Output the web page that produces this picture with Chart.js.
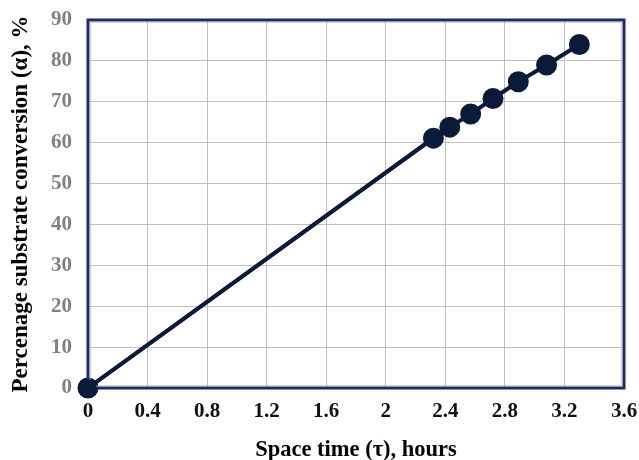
<!DOCTYPE html>
<html><head><meta charset="utf-8">
<script src="https://cdn.jsdelivr.net/npm/chart.js@4"></script>
<style>html,body{margin:0;padding:0;background:#fff}#wrap{width:639px;height:460px}</style>
</head><body><div id="wrap"><canvas id="c"></canvas></div>
<script>
const spaceTime = [0, 2.32, 2.43, 2.57, 2.72, 2.89, 3.08, 3.30];
const conversion = [0, 61.1, 63.8, 67.0, 70.8, 74.9, 79.0, 84.0];
const xTicks = [0, 0.4, 0.8, 1.2, 1.6, 2, 2.4, 2.8, 3.2, 3.6];
const yTicks = [0, 10, 20, 30, 40, 50, 60, 70, 80, 90];
const xTitle = 'Space time (\u03c4), hours';
const yTitle = 'Percenage substrate conversion (\u03b1), %';

const frame = {
  id: 'frame',
  afterDatasetsDraw(chart) {
    const a = chart.chartArea, ctx = chart.ctx;
    ctx.save();
    ctx.strokeStyle = '#1f2a63';
    ctx.lineWidth = 3;
    ctx.strokeRect(a.left, a.top, a.right - a.left, a.bottom - a.top);
    ctx.strokeStyle = '#9aa3c4';
    ctx.lineWidth = 1;
    ctx.strokeRect(a.left + 2, a.top + 2, a.right - a.left - 4, a.bottom - a.top - 4);
    ctx.restore();
  },
  afterDraw(chart) {
    const meta = chart.getDatasetMeta(0);
    const ctx = chart.ctx;
    ctx.save();
    ctx.strokeStyle = '#0c1a3a';
    ctx.lineWidth = 4;
    ctx.beginPath();
    ctx.moveTo(meta.data[0].x, meta.data[0].y);
    ctx.lineTo(meta.data[1].x, meta.data[1].y);
    ctx.stroke();
    ctx.beginPath();
    ctx.arc(meta.data[0].x, meta.data[0].y, 8.5, 0, Math.PI * 2);
    ctx.fillStyle = '#0c1a3a';
    ctx.fill();
    ctx.restore();
  }
};

new Chart(document.getElementById('c'), {
  type: 'scatter',
  data: {
    datasets: [{
      data: spaceTime.map((x, i) => ({x, y: conversion[i]})),
      showLine: true,
      borderColor: '#0c1a3a',
      backgroundColor: '#0c1a3a',
      borderWidth: 4,
      pointRadius: 8.5,
      pointHoverRadius: 8.5,
      clip: false
    }]
  },
  options: {
    responsive: true,
    maintainAspectRatio: false,
    animation: false,
    events: [],
    layout: {padding: {top: 20, right: 15, left: 0, bottom: 0}},
    plugins: {legend: {display: false}, tooltip: {enabled: false}},
    scales: {
      x: {
        type: 'linear', min: 0, max: 3.6,
        afterBuildTicks: s => { s.ticks = xTicks.map(v => ({value: v})); },
        afterFit: s => { s.height = 72; s.paddingLeft = 0; s.paddingRight = 0; },
        grid: {color: '#bfbfbf', lineWidth: 1, drawTicks: false},
        border: {display: false},
        ticks: {color: '#111', padding: 11, maxRotation: 0, autoSkip: false,
          callback: v => String(Math.round(v * 10) / 10),
          font: {family: 'Liberation Serif', size: 21, weight: 'bold'}},
        title: {display: true, text: xTitle, color: '#000', padding: {top: 11, bottom: -4},
          font: {family: 'Liberation Serif', size: 22.5, weight: 'bold'}}
      },
      y: {
        type: 'linear', min: 0, max: 90,
        afterBuildTicks: s => { s.ticks = yTicks.map(v => ({value: v})); },
        afterFit: s => { s.width = 88; s.paddingTop = 0; s.paddingBottom = 0; },
        grid: {color: '#bfbfbf', lineWidth: 1, drawTicks: false},
        border: {display: false},
        ticks: {color: '#808080', padding: 16, autoSkip: false,
          font: {family: 'Liberation Serif', size: 21, weight: 'bold'}},
        title: {display: true, text: yTitle, color: '#000', padding: {top: 7, bottom: 0},
          font: {family: 'Liberation Serif', size: 23, weight: 'bold'}}
      }
    }
  },
  plugins: [frame]
});
</script></body></html>
